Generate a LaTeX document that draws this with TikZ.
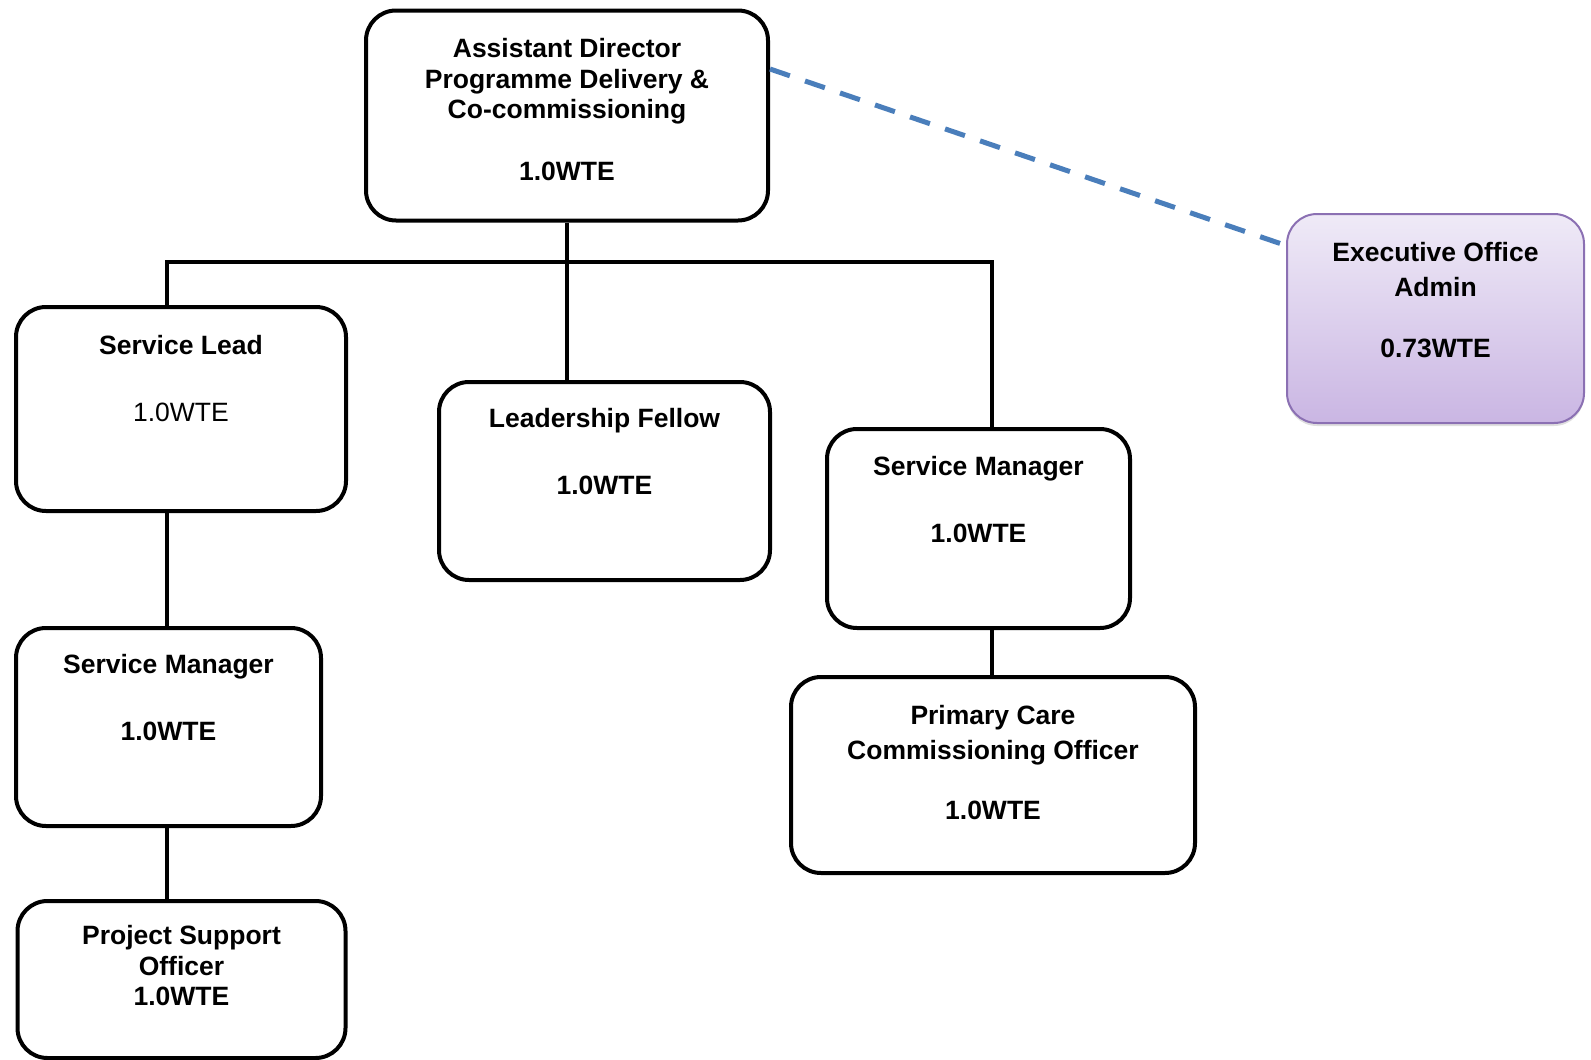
\documentclass[tikz,border=0pt]{standalone}
\usepackage{fontspec}
\setmainfont{Liberation Sans}
\usetikzlibrary{positioning,shadows}
\definecolor{dashblue}{HTML}{4A7EBB}
\definecolor{admintop}{HTML}{EFEAF7}
\definecolor{adminbot}{HTML}{CAB6E3}
\definecolor{adminline}{HTML}{8B70B3}
\newcommand{\wtegap}{18.25pt}

\begin{document}
\begin{tikzpicture}[x=0.5pt,y=-0.5pt,
  post/.style={draw=black,line width=2pt,rounded corners=15pt,fill=white},
  admin/.style={draw=adminline,line width=1pt,rounded corners=15pt,top color=admintop,bottom color=adminbot,
    drop shadow={shadow xshift=0pt,shadow yshift=-1.5pt,opacity=0.25}},
  title/.style={inner sep=0pt,align=center,font=\fontsize{13.25pt}{15.25pt}\selectfont\bfseries},
  link/.style={line width=2pt},
  dashlink/.style={draw=dashblue,line width=2.5pt,dash pattern=on 10.5pt off 8pt}]
\useasboundingbox (0,0) rectangle (1591,1060);

\node[post,minimum width=201pt,minimum height=105pt] (dir) at (567,115.5) {};
\node[admin,minimum width=148.5pt,minimum height=104.5pt] (exec) at (1435.5,318.5) {};
\node[post,minimum width=165pt,minimum height=102pt] (lead) at (181,409) {};
\node[post,minimum width=165.5pt,minimum height=99pt] (fellow) at (604.5,481) {};
\node[post,minimum width=151.5pt,minimum height=99.5pt] (smr) at (978.5,528.5) {};
\node[post,minimum width=152.5pt,minimum height=99pt] (sml) at (168.5,727) {};
\node[post,minimum width=202pt,minimum height=98pt] (pcco) at (993,775) {};
\node[post,minimum width=164pt,minimum height=78.5pt] (pso) at (181.5,979.5) {};

\node[title,below=14.75pt of dir.north] (dirtxt) {Assistant Director\\Programme Delivery \&\\Co-commissioning\\[15.75pt]1.0WTE};
\node[title,below=14.5pt of exec.north] (exectxt) {Executive Office\\[2.25pt]Admin\\[15.25pt]0.73WTE};
\node[title,below=15pt of lead.north] (leadtxt) {Service Lead\\[\wtegap]{\mdseries 1.0WTE}};
\node[title,below=14pt of fellow.north] (fellowtxt) {Leadership Fellow\\[\wtegap]1.0WTE};
\node[title,below=14.5pt of smr.north] (smrtxt) {Service Manager\\[\wtegap]1.0WTE};
\node[title,below=14pt of sml.north] (smltxt) {Service Manager\\[\wtegap]1.0WTE};
\node[title,below=15pt of pcco.north] (pccotxt) {Primary Care\\[2.25pt]Commissioning Officer\\[14.75pt]1.0WTE};
\node[title,below=13pt of pso.north] (psotxt) {Project Support\\Officer\\1.0WTE};

\coordinate (busl) at (167,261.5);
\coordinate (busr) at (992,261.5);
\draw[link] (dir.south) -- (dir.south |- fellow.north);
\draw[link] (busl |- lead.north) -- (busl) -- (busr) -- (busr |- smr.north);
\draw[link] (busl |- lead.south) -- (busl |- sml.north);
\draw[link] (busl |- sml.south) -- (busl |- pso.north);
\draw[link] (busr |- smr.south) -- (busr |- pcco.north);
\draw[dashlink] ([yshift=23.25pt]dir.east) -- ([yshift=36.5pt]exec.west);
\end{tikzpicture}
\end{document}
